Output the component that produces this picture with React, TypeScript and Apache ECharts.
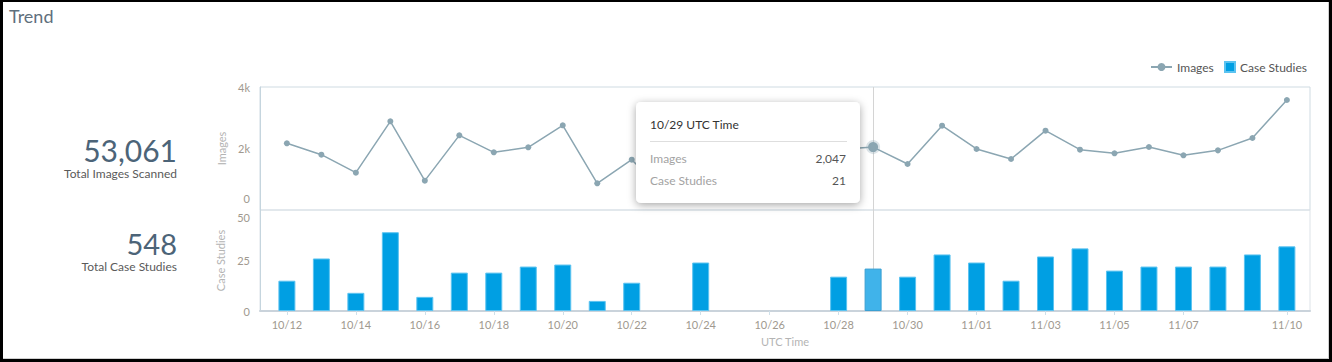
import React, { useEffect, useRef } from "react";
import * as echarts from "echarts";

const categories = [
  "10/12", "10/13", "10/14", "10/15", "10/16", "10/17", "10/18", "10/19", "10/20", "10/21",
  "10/22", "10/23", "10/24", "10/25", "10/26", "10/27", "10/28", "10/29", "10/30", "10/31",
  "11/01", "11/02", "11/03", "11/04", "11/05", "11/06", "11/07", "11/08", "11/09", "11/10",
];
const images = [
  2169, 1799, 1214, 2884, 954, 2428, 1875, 2038, 2754, 867,
  1637, 520, 780, 380, 400, 394, 1970, 2047, 1496, 2742,
  1984, 1659, 2580, 1962, 1843, 2049, 1778, 1940, 2341, 3577,
];
const caseStudies = [
  15, 26, 9, 39, 7, 19, 19, 22, 23, 5,
  14, 0, 24, 0, 0, 0, 17, 21, 17, 28,
  24, 15, 27, 31, 20, 22, 22, 22, 28, 32,
];
const tickLabels = [
  "10/12", "10/14", "10/16", "10/18", "10/20", "10/22", "10/24", "10/26", "10/28", "10/30",
  "11/01", "11/03", "11/05", "11/07", "11/10",
];
const hoverDate = "10/29";

const FONT = "Lato, 'Open Sans', sans-serif";
const fmt = (n: number) => n.toLocaleString("en-US");

export default function App() {
  const ref = useRef<HTMLDivElement>(null);
  useEffect(() => {
    document.body.style.margin = "0";
    if (!ref.current) return;
    const chart = echarts.init(ref.current, undefined, { renderer: "svg" });
    const hi = categories.indexOf(hoverDate);
    const tickIdx = tickLabels.map((t) => categories.indexOf(t));
    const totalImages = images.reduce((a, b) => a + b, 0);
    const totalCases = caseStudies.reduce((a, b) => a + b, 0);
    const xMin = -0.78;
    const xMax = categories.length - 1 + 0.67;
    const labelColor = "#a0998f";
    const nameColor = "#b4b4b4";
    const lineColor = "#8ba6b2";

    chart.setOption({
      animation: false,
      textStyle: { fontFamily: FONT },
      legend: [
        {
          data: ["Images"],
          left: 1150,
          top: 61,
          padding: 0,
          itemWidth: 21,
          itemHeight: 10,
          textStyle: { color: "#555", fontSize: 12, fontFamily: FONT },
        },
        {
          data: ["Case Studies"],
          left: 1224,
          top: 61,
          padding: 0,
          icon: "rect",
          itemWidth: 10,
          itemHeight: 10,
          textStyle: { color: "#555", fontSize: 12, fontFamily: FONT },
        },
      ],
      grid: [
        { left: 260, right: 22, top: 87, height: 123, show: true, borderColor: "#cfdbe2", borderWidth: 1 },
        { left: 260, right: 22, top: 210, height: 101, show: true, borderColor: "#dde3e8", borderWidth: 1 },
      ],
      xAxis: [
        {
          gridIndex: 0,
          type: "value",
          min: xMin,
          max: xMax,
          axisLine: { show: false },
          axisTick: { show: false },
          axisLabel: { show: false },
          splitLine: { show: false },
        },
        {
          gridIndex: 1,
          type: "value",
          min: xMin,
          max: xMax,
          axisLine: { show: true, onZero: false, lineStyle: { color: "#cad3db", width: 2 } },
          axisTick: { show: true, customValues: tickIdx, length: 4, lineStyle: { color: "#cfe0ea" } },
          axisLabel: {
            customValues: tickIdx,
            formatter: (v: number) => (Number.isInteger(v) && categories[v] ? categories[v] : ""),
            color: labelColor,
            fontSize: 11,
            margin: 8,
            fontFamily: FONT,
          },
          splitLine: { show: false },
          name: "UTC Time",
          nameLocation: "middle",
          nameGap: 25,
          nameTextStyle: { color: nameColor, fontSize: 11, fontFamily: FONT },
        },
      ],
      yAxis: [
        {
          gridIndex: 0,
          type: "value",
          min: 0,
          max: 4000,
          interval: 2000,
          axisLine: { show: true, onZero: false, lineStyle: { color: "#c5d5de" } },
          axisTick: { show: false },
          splitLine: { show: false },
          axisLabel: {
            color: labelColor,
            fontSize: 11,
            margin: 10,
            fontFamily: FONT,
            formatter: (v: number) => (v === 0 ? "{z|0}" : v / 1000 + "k"),
            rich: { z: { color: labelColor, fontSize: 11, fontFamily: FONT, padding: [0, 0, 24, 0] } },
          },
          name: "Images",
          nameLocation: "middle",
          nameGap: 31,
          nameTextStyle: { color: nameColor, fontSize: 11, fontFamily: FONT },
        },
        {
          gridIndex: 1,
          type: "value",
          min: 0,
          max: 50,
          interval: 25,
          axisLine: { show: true, onZero: false, lineStyle: { color: "#c5d5de" } },
          axisTick: { show: false },
          splitLine: { show: false },
          axisLabel: {
            color: labelColor,
            fontSize: 11,
            margin: 10,
            fontFamily: FONT,
            formatter: (v: number) => (v === 50 ? "{t|50}" : String(v)),
            rich: { t: { color: labelColor, fontSize: 11, fontFamily: FONT, padding: [14, 0, 0, 0] } },
          },
          name: "Case Studies",
          nameLocation: "middle",
          nameGap: 31,
          nameTextStyle: { color: nameColor, fontSize: 11, fontFamily: FONT },
        },
      ],
      series: [
        {
          name: "Images",
          type: "line",
          xAxisIndex: 0,
          yAxisIndex: 0,
          symbol: "circle",
          symbolSize: 6,
          showSymbol: true,
          lineStyle: { color: lineColor, width: 1.5 },
          itemStyle: { color: lineColor },
          data: images.map((v, i) =>
            i === hi
              ? { value: [i, v], symbolSize: 10, itemStyle: { color: lineColor, borderColor: "rgba(139,166,178,0.3)", borderWidth: 4 } }
              : [i, v]
          ),
          markLine: {
            silent: true,
            z: 1,
            symbol: "none",
            label: { show: false },
            lineStyle: { color: "#d4d4d4", width: 1, type: "solid" },
            data: [{ xAxis: hi }],
          },
          z: 3,
        },
        {
          name: "Case Studies",
          type: "bar",
          xAxisIndex: 1,
          yAxisIndex: 1,
          barWidth: 17,
          z: 2,
          itemStyle: { color: "#009fe3", borderColor: "#5cc3f0", borderWidth: 1 },
          data: caseStudies.map((v, i) =>
            i === hi
              ? { value: [i, v], itemStyle: { color: "#40b3ea", borderColor: "#3a9fd2", borderWidth: 1 } }
              : v === 0
              ? { value: [i, v], itemStyle: { borderWidth: 0 } }
              : [i, v]
          ),
          markLine: {
            silent: true,
            z: 1,
            symbol: "none",
            label: { show: false },
            lineStyle: { color: "#d4d4d4", width: 1, type: "solid" },
            data: [{ xAxis: hi }],
          },
        },
      ],
      graphic: [
        { type: "text", left: 9, top: 7, style: { text: "Trend", fontSize: 18, fill: "#5f6f7d", fontFamily: FONT } },
        { type: "text", x: 177, y: 150, style: { text: fmt(totalImages), fontSize: 30, lineHeight: 28, fill: "#4c6478", fontFamily: FONT, align: "right", verticalAlign: "middle" } },
        { type: "text", x: 177, y: 173, style: { text: "Total Images Scanned", fontSize: 12, lineHeight: 13, fill: "#5a5a5a", fontFamily: FONT, align: "right", verticalAlign: "middle" } },
        { type: "text", x: 177, y: 243, style: { text: fmt(totalCases), fontSize: 29, lineHeight: 27, fill: "#4c6478", fontFamily: FONT, align: "right", verticalAlign: "middle" } },
        { type: "text", x: 177, y: 266, style: { text: "Total Case Studies", fontSize: 12, lineHeight: 13, fill: "#5a5a5a", fontFamily: FONT, align: "right", verticalAlign: "middle" } },
        {
          type: "group",
          z: 100,
          children: [
            {
              type: "rect",
              shape: { x: 636, y: 102, width: 224, height: 101, r: 5 },
              style: { fill: "#fff", shadowBlur: 8, shadowColor: "rgba(0,0,0,0.35)", shadowOffsetX: 0, shadowOffsetY: 2 },
              z: 100,
            },
            { type: "text", x: 650, y: 124, z: 101, style: { text: hoverDate + " UTC Time", fontSize: 12, fill: "#333", fontFamily: FONT, verticalAlign: "middle" } },
            { type: "line", z: 101, shape: { x1: 650, y1: 141.5, x2: 847, y2: 141.5 }, style: { stroke: "#dedede", lineWidth: 1 } },
            { type: "text", x: 650, y: 158, z: 101, style: { text: "Images", fontSize: 12, fill: "#a3a3a3", fontFamily: FONT, verticalAlign: "middle" } },
            { type: "text", x: 846, y: 158, z: 101, style: { text: fmt(images[hi]), fontSize: 12, fill: "#555", fontFamily: FONT, align: "right", verticalAlign: "middle" } },
            { type: "text", x: 650, y: 180, z: 101, style: { text: "Case Studies", fontSize: 12, fill: "#a3a3a3", fontFamily: FONT, verticalAlign: "middle" } },
            { type: "text", x: 846, y: 180, z: 101, style: { text: fmt(caseStudies[hi]), fontSize: 12, fill: "#555", fontFamily: FONT, align: "right", verticalAlign: "middle" } },
          ],
        },
      ],
    });
    return () => chart.dispose();
  }, []);

  return (
    <div style={{ position: "fixed", left: 0, top: 0, width: 1332, height: 362, background: "#fff" }}>
      <div ref={ref} style={{ position: "absolute", left: 0, top: 0, width: 1332, height: 362 }} />
      <div
        style={{
          position: "absolute",
          left: 0,
          top: 0,
          width: 1332,
          height: 362,
          boxSizing: "border-box",
          border: "3px solid #000",
          borderTopWidth: 2,
          boxShadow: "inset -1px -1px 0 #d0d0d0",
          pointerEvents: "none",
        }}
      />
    </div>
  );
}
